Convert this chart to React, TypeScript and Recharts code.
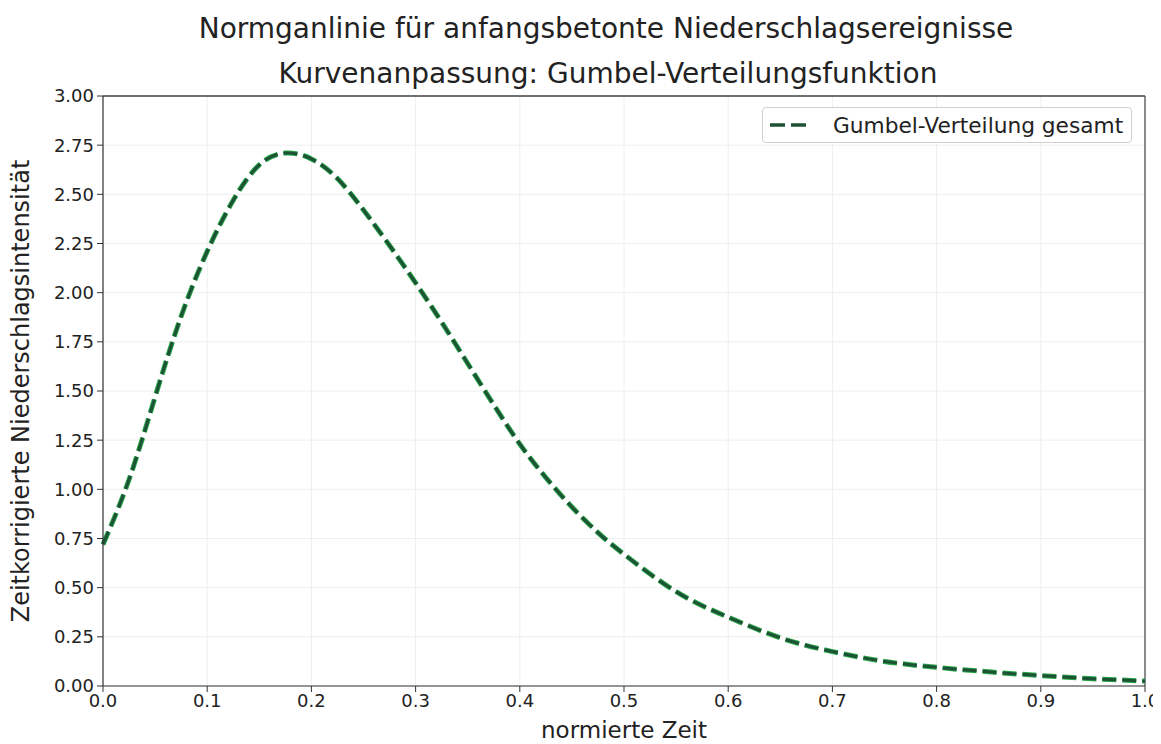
import React from "react";
import {
  LineChart,
  Line,
  XAxis,
  YAxis,
  CartesianGrid,
  ReferenceLine,
  Legend,
} from "recharts";

// normierte Zeit (0..1)
const timeValues = [
  0, 0.025, 0.05, 0.075, 0.1, 0.125, 0.15, 0.175, 0.2, 0.225, 0.25, 0.275, 0.3,
  0.325, 0.35, 0.375, 0.4, 0.425, 0.45, 0.475, 0.5, 0.55, 0.6, 0.65, 0.7, 0.75,
  0.8, 0.85, 0.9, 0.95, 1.0,
];

// Zeitkorrigierte Niederschlagsintensität (Gumbel-Anpassung)
const intensityValues = [
  0.72, 1.05, 1.47, 1.88, 2.21, 2.47, 2.65, 2.71, 2.68, 2.58, 2.42, 2.24, 2.05,
  1.85, 1.64, 1.43, 1.23, 1.06, 0.91, 0.78, 0.67, 0.48, 0.35, 0.245, 0.175,
  0.125, 0.095, 0.072, 0.053, 0.037, 0.025,
];

const xMajorTicks = [0, 0.1, 0.2, 0.3, 0.4, 0.5, 0.6, 0.7, 0.8, 0.9, 1.0];
const xMinorTicks = Array.from({ length: 51 }, (_, i) => i / 50);
const yMajorTicks = [0, 0.25, 0.5, 0.75, 1, 1.25, 1.5, 1.75, 2, 2.25, 2.5, 2.75, 3];
const yMinorTicks = Array.from({ length: 61 }, (_, i) => i / 20);

const seriesName = "Gumbel-Verteilung gesamt";
const title1 = "Normganlinie für anfangsbetonte Niederschlagsereignisse";
const title2 = "Kurvenanpassung: Gumbel-Verteilungsfunktion";
const xLabel = "normierte Zeit";
const yLabel = "Zeitkorrigierte Niederschlagsintensität";

const data = timeValues.map((t, i) => ({ t, v: intensityValues[i] }));

const FONT = "'DejaVu Sans', Verdana, sans-serif";
const DARK = "#1d5236";
const GREEN = "#27a546";
const AXIS = "#333";
const DASH = "14 6";

const LegendBox = () => (
  <div
    style={{
      display: "flex",
      alignItems: "center",
      boxSizing: "border-box",
      height: 36,
      border: "1px solid #d0d0d0",
      borderRadius: 4,
      background: "#fff",
      padding: "0 8px 0 7px",
      fontFamily: FONT,
      fontSize: 21.7,
      color: "#222",
      whiteSpace: "nowrap",
    }}
  >
    <svg width={41} height={10} style={{ marginRight: 22 }}>
      <line x1={0} y1={5} x2={41} y2={5} stroke={DARK} strokeWidth={3.5} strokeDasharray="15 6" />
    </svg>
    {seriesName}
  </div>
);

export default function App() {
  return (
    <div style={{ position: "relative", width: 1153, height: 736, fontFamily: FONT }}>
      <div
        style={{
          position: "absolute",
          left: 0,
          width: 1196,
          top: 4,
          textAlign: "center",
          fontSize: 28,
          color: "#222",
          whiteSpace: "nowrap",
        }}
      >
        {title1}
      </div>
      <div
        style={{
          position: "absolute",
          left: 0,
          width: 1200,
          top: 49,
          textAlign: "center",
          fontSize: 28,
          color: "#222",
          whiteSpace: "nowrap",
        }}
      >
        {title2}
      </div>
      <LineChart
        width={1153}
        height={736}
        data={data}
        margin={{ top: 88, right: 16, bottom: 28, left: 35 }}
        style={{ overflow: "visible" }}
      >
        <CartesianGrid stroke="#eeeeee" strokeWidth={1} />
        {/* minor ticks */}
        <XAxis
          xAxisId="minor"
          dataKey="t"
          type="number"
          domain={[0, 1]}
          ticks={xMinorTicks}
          tick={false}
          tickSize={3}
          axisLine={false}
          tickLine={{ stroke: AXIS }}
          height={0}
        />
        <YAxis
          yAxisId="minor"
          type="number"
          domain={[0, 3]}
          ticks={yMinorTicks}
          tick={false}
          tickSize={3}
          axisLine={false}
          tickLine={{ stroke: AXIS }}
          width={0}
        />
        <XAxis
          dataKey="t"
          type="number"
          domain={[0, 1]}
          ticks={xMajorTicks}
          tickFormatter={(v: number) => v.toFixed(1)}
          tick={{ fill: "#222", fontSize: 18, fontFamily: FONT }}
          tickSize={6}
          tickMargin={2}
          axisLine={{ stroke: AXIS, strokeWidth: 1.2 }}
          tickLine={{ stroke: AXIS }}
          height={30}
          label={{
            content: (props: any) => {
              const vb = props.viewBox;
              return (
                <text
                  x={vb.x + vb.width / 2}
                  y={vb.y + 45}
                  textAnchor="middle"
                  dominantBaseline="middle"
                  fontSize={23}
                  fontFamily={FONT}
                  fill="#222"
                >
                  {xLabel}
                </text>
              );
            },
          }}
        />
        <YAxis
          type="number"
          domain={[0, 3]}
          ticks={yMajorTicks}
          tickFormatter={(v: number) => v.toFixed(2)}
          tick={{ fill: "#222", fontSize: 18, fontFamily: FONT }}
          tickSize={6}
          tickMargin={3}
          axisLine={{ stroke: AXIS, strokeWidth: 1.2 }}
          tickLine={{ stroke: AXIS }}
          width={60}
          label={{
            content: (props: any) => {
              const vb = props.viewBox;
              const cx = 14;
              const cy = vb.y + vb.height / 2;
              return (
                <text
                  x={cx}
                  y={cy}
                  transform={`rotate(-90 ${cx} ${cy})`}
                  textAnchor="middle"
                  dominantBaseline="middle"
                  fontSize={24}
                  fontFamily={FONT}
                  fill="#222"
                >
                  {yLabel}
                </text>
              );
            },
          }}
        />
        {/* frame: top and right borders */}
        <ReferenceLine y={3} stroke="#444" strokeWidth={1.5} />
        <ReferenceLine x={1} stroke="#444" strokeWidth={1.2} />
        <Line
          type="natural"
          dataKey="v"
          stroke={GREEN}
          strokeWidth={5}
          strokeDasharray={DASH}
          dot={false}
          isAnimationActive={false}
          legendType="none"
        />
        <Line
          type="natural"
          dataKey="v"
          name={seriesName}
          stroke={DARK}
          strokeWidth={3}
          strokeDasharray={DASH}
          dot={false}
          isAnimationActive={false}
        />
        <Legend
          layout="horizontal"
          align="center"
          verticalAlign="middle"
          content={() => <LegendBox />}
          wrapperStyle={{ position: "absolute", left: 754, top: 99, width: "auto" }}
        />
      </LineChart>
    </div>
  );
}
